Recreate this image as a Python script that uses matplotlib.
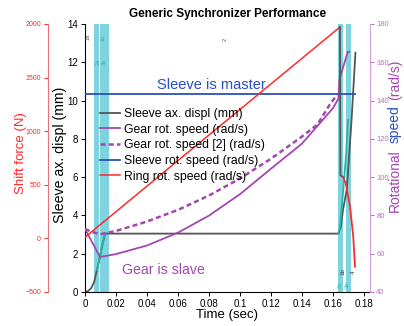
import matplotlib
matplotlib.use("Agg")
from matplotlib import pyplot as plt

plt.rcParams['font.family'] = ['Liberation Sans', 'DejaVu Sans']

# phase bands (sec)
bands = [(0.0060, 0.0090), (0.0099, 0.0157), (0.1635, 0.1663), (0.1684, 0.1714)]

# sleeve axial displacement (mm)
t_displ = [0, 0.002, 0.004, 0.006, 0.0077, 0.009, 0.011, 0.013, 0.1635, 0.1650, 0.1665, 0.1690, 0.1720, 0.1745]
displ = [0, 0.05, 0.2, 0.55, 1.15, 1.6, 2.4, 3.05, 3.05, 3.4, 4.3, 5.4, 9.0, 12.5]
t_displ_a = [0.0077, 0.009, 0.010, 0.011, 0.012, 0.013]
displ_a = [1.15, 1.6, 2.0, 2.4, 2.8, 3.05]
t_displ_b = [0.1636, 0.1645, 0.1665, 0.1685, 0.1697]
displ_b = [3.05, 3.4, 5.2, 7.2, 9.0]

# gear rot. speed (rad/s)
t_gear = [0, 0.0097, 0.02, 0.04, 0.06, 0.08, 0.10, 0.12, 0.14, 0.16, 0.1635, 0.1642, 0.1695, 0.1705]
gear = [72.9, 58.3, 59.8, 64.3, 71.0, 79.9, 91.1, 104.4, 117.5, 136.0, 141.0, 151.0, 165.4, 165.4]

# gear rot. speed [2] (rad/s)
t_gear2 = [0, 0.005, 0.01, 0.02, 0.04, 0.06, 0.08, 0.10, 0.12, 0.14, 0.15, 0.158, 0.1626]
gear2 = [72.9, 71.2, 70.2, 71.9, 76.8, 82.9, 90.4, 99.3, 109.6, 121.2, 127.5, 138.0, 143.0]

# sleeve rot. speed (rad/s)
t_sleeve = [0, 0.174]
sleeve = [143.3, 143.3]

# ring rot. speed (rad/s)
t_ring = [0, 0.1645]
ring = [68.6, 178.4]
t_ring_drop = [0.1645, 0.1648, 0.1666]
ring_drop = [178.4, 101.0, 100.0]
t_ring_end = [0.1666, 0.1682, 0.1710, 0.1731, 0.1742]
ring_end = [100.0, 97.0, 84.6, 68.9, 53.2]

x_ticks = [0, 0.02, 0.04, 0.06, 0.08, 0.10, 0.12, 0.14, 0.16, 0.18]
x_labels = ['0', '0.02', '0.04', '0.06', '0.08', '0.1', '0.12', '0.14', '0.16', '0.18']

gray = '#555555'
purple = '#a347b0'
blue = '#2a4fbf'
red = '#ff2a2a'
teal = '#22b5a8'
plum = '#d79bd7'

fig = plt.figure(figsize=(4.04, 3.26), dpi=100, facecolor='white')
ax = fig.add_axes([85/404, 1-292/326, 285/404, 268/326])
ax_f = ax.twinx()
ax_s = ax.twinx()
ax.set_zorder(1); ax_f.set_zorder(2); ax_s.set_zorder(3)
ax.patch.set_visible(False)

# main axes (mm)
for a, b in bands:
    ax.axvspan(a, b, color='#7fd3df', zorder=0, lw=0)
l_displ, = ax.plot(t_displ, displ, color=gray, lw=1.3)
ax.plot(t_displ_a, displ_a, color=teal, lw=1.3)
ax.plot(t_displ_b, displ_b, color=teal, lw=1.3)
ax.set_xlim(0, 0.1839)
ax.set_ylim(0, 14)
ax.set_xticks(x_ticks)
ax.set_xticklabels(x_labels)
ax.set_yticks(range(0, 15, 2))
ax.tick_params(labelsize=7, length=3, width=0.7, pad=2)
for s in ['top', 'right']:
    ax.spines[s].set_visible(False)
ax.set_ylabel('Sleeve ax. displ (mm)', fontsize=10.2)
ax.yaxis.set_label_coords(-0.064, 0.511)
ax.set_xlabel('Time (sec)', fontsize=9.5)
ax.xaxis.set_label_coords(0.5, -0.062)
ax.set_title('Generic Synchronizer Performance', fontsize=8.5, fontweight='bold', pad=5)

# shift force axis
ax_f.set_ylim(-500, 2000)
ax_f.set_yticks([-500, 0, 500, 1000, 1500, 2000])
ax_f.spines['left'].set_position(('axes', -0.13))
ax_f.spines['left'].set_visible(True)
ax_f.spines['left'].set_color('#f07070')
for s in ['top', 'right', 'bottom']:
    ax_f.spines[s].set_visible(False)
ax_f.yaxis.set_ticks_position('left')
ax_f.yaxis.set_label_position('left')
ax_f.tick_params(axis='y', colors=red, labelsize=5, length=3, width=0.7, pad=2)
ax_f.set_ylabel('Shift force (N)', color=red, fontsize=9.5)
ax_f.yaxis.set_label_coords(-0.205, 0.519)

# rotational speed axis
l_gear, = ax_s.plot(t_gear, gear, color=purple, lw=1.3)
l_gear2, = ax_s.plot(t_gear2, gear2, color=purple, lw=1.8, ls=(0, (2, 1.3)))
l_sleeve, = ax_s.plot(t_sleeve, sleeve, color=blue, lw=1.3)
l_ring, = ax_s.plot(t_ring, ring, color=red, lw=1.1)
ax_s.plot(t_ring_drop, ring_drop, color=gray, lw=1.3)
ax_s.plot(t_ring_end, ring_end, color=red, lw=1.3)
ax_s.set_ylim(40, 180)
ax_s.set_yticks(range(40, 181, 20))
for s in ['top', 'left', 'bottom']:
    ax_s.spines[s].set_visible(False)
ax_s.spines['right'].set_color(plum)
ax_s.tick_params(axis='y', colors='#c070c0', labelsize=5.5, length=3, width=0.7, pad=1.5)

fig.text(395/404, 1-181/326, 'Rotational', rotation=90, color=purple, fontsize=10, ha='center', va='center')
fig.text(395/404, 1-124/326, 'speed', rotation=90, color=blue, fontsize=10, ha='center', va='center')
fig.text(395/404, 1-80/326, '(rad/s)', rotation=90, color=purple, fontsize=10, ha='center', va='center')

ax_s.text(0.0813, 148.1, 'Sleeve is master', color=blue, fontsize=10.5, ha='center', va='center')
ax_s.text(0.0503, 51.5, 'Gear is slave', color=purple, fontsize=10.2, ha='center', va='center')

# phase markers
ax.text(0.0903, 13.2, '2', fontsize=4, color=gray, ha='center', va='center', rotation=90)
ax.text(0.002, 13.3, '1a', fontsize=4, color=gray, ha='center', va='center', rotation=90)
ax.text(0.0115, 13.3, '1b', fontsize=4, color=teal, ha='center', va='center', rotation=90)
ax.text(0.0085, 12.0, '2a', fontsize=4, color=teal, ha='center', va='center', rotation=90)
ax.text(0.0125, 12.0, '3a', fontsize=4, color=teal, ha='center', va='center', rotation=90)
ax.text(0.1667, 1.05, '1b', fontsize=4.5, color='#333333', ha='center', va='center', rotation=90)
ax.text(0.1730, 1.05, '4', fontsize=4.5, color='#333333', ha='center', va='center', rotation=90)
ax.text(0.1645, 0.37, '2a', fontsize=4, color=teal, ha='center', va='center', rotation=90)
ax.text(0.1695, 0.37, '3a', fontsize=4, color=teal, ha='center', va='center', rotation=90)

ax_s.legend([l_displ, l_gear, l_gear2, l_sleeve, l_ring],
            ['Sleeve ax. displ (mm)', 'Gear rot. speed (rad/s)', 'Gear rot. speed [2] (rad/s)',
             'Sleeve rot. speed (rad/s)', 'Ring rot. speed (rad/s)'],
            loc='upper left', bbox_to_anchor=(100/404, 1-108/326), bbox_transform=fig.transFigure,
            frameon=False, fontsize=8.8, handlelength=1.65, handletextpad=0.3,
            labelspacing=0.3, borderpad=0, borderaxespad=0)

plt.savefig('out.png', dpi=100)
plt.close(fig)
